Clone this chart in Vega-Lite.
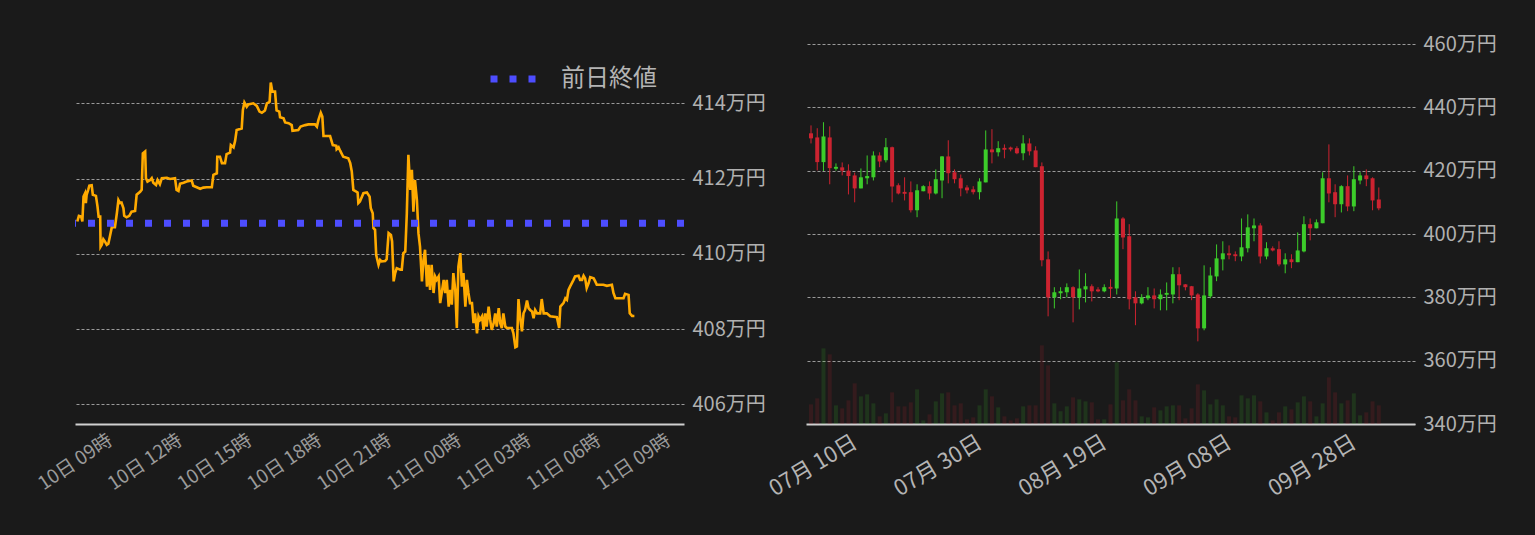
{
  "$schema": "https://vega.github.io/schema/vega-lite/v6.json",
  "background": "#1a1a1a",
  "padding": {"left": 34, "top": 34, "right": 60, "bottom": 60},
  "spacing": 122,
  "bounds": "flush",
  "datasets": {
    "intraday": [
      {"t": "2023-10-10T07:36", "p": 410.86}, {"t": "2023-10-10T07:40", "p": 411.01}, {"t": "2023-10-10T07:46", "p": 410.99},
      {"t": "2023-10-10T07:49", "p": 410.86}, {"t": "2023-10-10T07:52", "p": 411.52}, {"t": "2023-10-10T07:56", "p": 411.61},
      {"t": "2023-10-10T07:58", "p": 411.35}, {"t": "2023-10-10T08:00", "p": 411.57}, {"t": "2023-10-10T08:04", "p": 411.70},
      {"t": "2023-10-10T08:07", "p": 411.81}, {"t": "2023-10-10T08:13", "p": 411.82}, {"t": "2023-10-10T08:16", "p": 411.57},
      {"t": "2023-10-10T08:24", "p": 411.54}, {"t": "2023-10-10T08:28", "p": 411.26}, {"t": "2023-10-10T08:31", "p": 410.99},
      {"t": "2023-10-10T08:35", "p": 410.99}, {"t": "2023-10-10T08:36", "p": 410.19}, {"t": "2023-10-10T08:39", "p": 410.24},
      {"t": "2023-10-10T08:43", "p": 410.39}, {"t": "2023-10-10T08:47", "p": 410.33}, {"t": "2023-10-10T08:52", "p": 410.24},
      {"t": "2023-10-10T08:56", "p": 410.27}, {"t": "2023-10-10T09:00", "p": 410.46}, {"t": "2023-10-10T09:05", "p": 410.71},
      {"t": "2023-10-10T09:13", "p": 410.71}, {"t": "2023-10-10T09:18", "p": 411.08}, {"t": "2023-10-10T09:22", "p": 411.43},
      {"t": "2023-10-10T09:26", "p": 411.35}, {"t": "2023-10-10T09:30", "p": 411.36}, {"t": "2023-10-10T09:35", "p": 411.21},
      {"t": "2023-10-10T09:37", "p": 411.01}, {"t": "2023-10-10T09:43", "p": 410.97}, {"t": "2023-10-10T09:50", "p": 411.01},
      {"t": "2023-10-10T09:56", "p": 411.12}, {"t": "2023-10-10T10:05", "p": 411.14}, {"t": "2023-10-10T10:09", "p": 411.57},
      {"t": "2023-10-10T10:18", "p": 411.65}, {"t": "2023-10-10T10:22", "p": 411.70}, {"t": "2023-10-10T10:25", "p": 412.67},
      {"t": "2023-10-10T10:31", "p": 412.72}, {"t": "2023-10-10T10:33", "p": 412.01}, {"t": "2023-10-10T10:37", "p": 411.92},
      {"t": "2023-10-10T10:44", "p": 411.96}, {"t": "2023-10-10T10:48", "p": 412.01}, {"t": "2023-10-10T10:52", "p": 411.89},
      {"t": "2023-10-10T10:59", "p": 411.83}, {"t": "2023-10-10T11:03", "p": 411.96}, {"t": "2023-10-10T11:09", "p": 411.85},
      {"t": "2023-10-10T11:14", "p": 412.01}, {"t": "2023-10-10T11:27", "p": 412.02}, {"t": "2023-10-10T11:35", "p": 411.99},
      {"t": "2023-10-10T11:48", "p": 412.01}, {"t": "2023-10-10T11:52", "p": 411.70}, {"t": "2023-10-10T11:57", "p": 411.67},
      {"t": "2023-10-10T12:01", "p": 411.86}, {"t": "2023-10-10T12:10", "p": 411.89}, {"t": "2023-10-10T12:18", "p": 411.92},
      {"t": "2023-10-10T12:31", "p": 411.95}, {"t": "2023-10-10T12:35", "p": 411.81}, {"t": "2023-10-10T12:44", "p": 411.77},
      {"t": "2023-10-10T12:53", "p": 411.73}, {"t": "2023-10-10T13:01", "p": 411.76}, {"t": "2023-10-10T13:10", "p": 411.77},
      {"t": "2023-10-10T13:23", "p": 411.77}, {"t": "2023-10-10T13:27", "p": 412.10}, {"t": "2023-10-10T13:36", "p": 412.14},
      {"t": "2023-10-10T13:37", "p": 412.58}, {"t": "2023-10-10T13:44", "p": 412.58}, {"t": "2023-10-10T13:49", "p": 412.41},
      {"t": "2023-10-10T13:57", "p": 412.41}, {"t": "2023-10-10T14:01", "p": 412.65}, {"t": "2023-10-10T14:10", "p": 412.69},
      {"t": "2023-10-10T14:12", "p": 412.89}, {"t": "2023-10-10T14:19", "p": 412.83}, {"t": "2023-10-10T14:23", "p": 413.00},
      {"t": "2023-10-10T14:27", "p": 413.29}, {"t": "2023-10-10T14:40", "p": 413.33}, {"t": "2023-10-10T14:43", "p": 413.82},
      {"t": "2023-10-10T14:47", "p": 414.02}, {"t": "2023-10-10T14:53", "p": 413.91}, {"t": "2023-10-10T14:57", "p": 413.97},
      {"t": "2023-10-10T15:10", "p": 414.00}, {"t": "2023-10-10T15:19", "p": 413.93}, {"t": "2023-10-10T15:26", "p": 413.78},
      {"t": "2023-10-10T15:32", "p": 413.75}, {"t": "2023-10-10T15:40", "p": 413.81}, {"t": "2023-10-10T15:45", "p": 414.00},
      {"t": "2023-10-10T15:52", "p": 414.04}, {"t": "2023-10-10T15:55", "p": 414.55}, {"t": "2023-10-10T15:59", "p": 414.31},
      {"t": "2023-10-10T16:06", "p": 414.31}, {"t": "2023-10-10T16:10", "p": 413.81}, {"t": "2023-10-10T16:17", "p": 413.78},
      {"t": "2023-10-10T16:19", "p": 413.63}, {"t": "2023-10-10T16:28", "p": 413.60}, {"t": "2023-10-10T16:32", "p": 413.49},
      {"t": "2023-10-10T16:41", "p": 413.47}, {"t": "2023-10-10T16:49", "p": 413.42}, {"t": "2023-10-10T16:51", "p": 413.27},
      {"t": "2023-10-10T17:06", "p": 413.29}, {"t": "2023-10-10T17:12", "p": 413.38}, {"t": "2023-10-10T17:24", "p": 413.42},
      {"t": "2023-10-10T17:32", "p": 413.44}, {"t": "2023-10-10T17:49", "p": 413.44}, {"t": "2023-10-10T17:54", "p": 413.38},
      {"t": "2023-10-10T17:58", "p": 413.56}, {"t": "2023-10-10T18:04", "p": 413.75}, {"t": "2023-10-10T18:08", "p": 413.65},
      {"t": "2023-10-10T18:11", "p": 413.13}, {"t": "2023-10-10T18:28", "p": 413.13}, {"t": "2023-10-10T18:35", "p": 412.89},
      {"t": "2023-10-10T18:44", "p": 412.87}, {"t": "2023-10-10T18:45", "p": 412.78}, {"t": "2023-10-10T18:50", "p": 412.83},
      {"t": "2023-10-10T18:54", "p": 412.74}, {"t": "2023-10-10T19:02", "p": 412.58}, {"t": "2023-10-10T19:15", "p": 412.54},
      {"t": "2023-10-10T19:20", "p": 412.41}, {"t": "2023-10-10T19:24", "p": 412.19}, {"t": "2023-10-10T19:28", "p": 411.70},
      {"t": "2023-10-10T19:39", "p": 411.63}, {"t": "2023-10-10T19:41", "p": 411.35}, {"t": "2023-10-10T19:45", "p": 411.39},
      {"t": "2023-10-10T19:54", "p": 411.61}, {"t": "2023-10-10T20:03", "p": 411.63}, {"t": "2023-10-10T20:10", "p": 411.52},
      {"t": "2023-10-10T20:13", "p": 411.21}, {"t": "2023-10-10T20:18", "p": 411.08}, {"t": "2023-10-10T20:20", "p": 410.68},
      {"t": "2023-10-10T20:24", "p": 410.64}, {"t": "2023-10-10T20:27", "p": 409.97}, {"t": "2023-10-10T20:33", "p": 409.71},
      {"t": "2023-10-10T20:37", "p": 409.84}, {"t": "2023-10-10T20:41", "p": 409.80}, {"t": "2023-10-10T20:50", "p": 409.81},
      {"t": "2023-10-10T20:54", "p": 409.86}, {"t": "2023-10-10T20:59", "p": 410.55}, {"t": "2023-10-10T21:05", "p": 410.50},
      {"t": "2023-10-10T21:08", "p": 410.33}, {"t": "2023-10-10T21:12", "p": 409.27}, {"t": "2023-10-10T21:16", "p": 409.49},
      {"t": "2023-10-10T21:20", "p": 409.62}, {"t": "2023-10-10T21:29", "p": 409.58}, {"t": "2023-10-10T21:33", "p": 409.58},
      {"t": "2023-10-10T21:37", "p": 410.02}, {"t": "2023-10-10T21:42", "p": 410.06}, {"t": "2023-10-10T21:46", "p": 411.08},
      {"t": "2023-10-10T21:50", "p": 412.63}, {"t": "2023-10-10T21:55", "p": 411.70}, {"t": "2023-10-10T21:59", "p": 412.23},
      {"t": "2023-10-10T22:03", "p": 411.12}, {"t": "2023-10-10T22:07", "p": 411.96}, {"t": "2023-10-10T22:12", "p": 411.43},
      {"t": "2023-10-10T22:16", "p": 410.55}, {"t": "2023-10-10T22:20", "p": 410.19}, {"t": "2023-10-10T22:25", "p": 409.27},
      {"t": "2023-10-10T22:29", "p": 409.84}, {"t": "2023-10-10T22:33", "p": 410.11}, {"t": "2023-10-10T22:38", "p": 409.13},
      {"t": "2023-10-10T22:42", "p": 409.71}, {"t": "2023-10-10T22:46", "p": 409.04}, {"t": "2023-10-10T22:50", "p": 409.71},
      {"t": "2023-10-10T22:55", "p": 408.96}, {"t": "2023-10-10T22:59", "p": 409.40}, {"t": "2023-10-10T23:03", "p": 409.31},
      {"t": "2023-10-10T23:08", "p": 409.40}, {"t": "2023-10-10T23:12", "p": 408.69}, {"t": "2023-10-10T23:16", "p": 408.96},
      {"t": "2023-10-10T23:21", "p": 409.31}, {"t": "2023-10-10T23:25", "p": 408.96}, {"t": "2023-10-10T23:29", "p": 409.31},
      {"t": "2023-10-10T23:34", "p": 408.60}, {"t": "2023-10-10T23:38", "p": 409.04}, {"t": "2023-10-10T23:42", "p": 408.65},
      {"t": "2023-10-10T23:46", "p": 409.49}, {"t": "2023-10-10T23:51", "p": 409.04}, {"t": "2023-10-10T23:55", "p": 408.03},
      {"t": "2023-10-10T23:59", "p": 409.66}, {"t": "2023-10-11T00:04", "p": 410.02}, {"t": "2023-10-11T00:08", "p": 409.13},
      {"t": "2023-10-11T00:12", "p": 409.49}, {"t": "2023-10-11T00:17", "p": 408.60}, {"t": "2023-10-11T00:21", "p": 409.31},
      {"t": "2023-10-11T00:25", "p": 408.96}, {"t": "2023-10-11T00:29", "p": 408.69}, {"t": "2023-10-11T00:34", "p": 408.69},
      {"t": "2023-10-11T00:38", "p": 408.16}, {"t": "2023-10-11T00:42", "p": 408.42}, {"t": "2023-10-11T00:47", "p": 407.89},
      {"t": "2023-10-11T00:51", "p": 408.34}, {"t": "2023-10-11T00:55", "p": 408.25}, {"t": "2023-10-11T01:00", "p": 408.34},
      {"t": "2023-10-11T01:04", "p": 407.98}, {"t": "2023-10-11T01:08", "p": 408.42}, {"t": "2023-10-11T01:12", "p": 408.07},
      {"t": "2023-10-11T01:17", "p": 408.60}, {"t": "2023-10-11T01:21", "p": 408.25}, {"t": "2023-10-11T01:25", "p": 407.98},
      {"t": "2023-10-11T01:30", "p": 408.16}, {"t": "2023-10-11T01:34", "p": 408.42}, {"t": "2023-10-11T01:38", "p": 408.07},
      {"t": "2023-10-11T01:43", "p": 408.56}, {"t": "2023-10-11T01:47", "p": 408.16}, {"t": "2023-10-11T01:51", "p": 408.03},
      {"t": "2023-10-11T01:55", "p": 408.42}, {"t": "2023-10-11T02:00", "p": 408.07}, {"t": "2023-10-11T02:04", "p": 408.03},
      {"t": "2023-10-11T02:17", "p": 408.03}, {"t": "2023-10-11T02:21", "p": 407.89}, {"t": "2023-10-11T02:26", "p": 407.52},
      {"t": "2023-10-11T02:30", "p": 407.54}, {"t": "2023-10-11T02:34", "p": 408.80}, {"t": "2023-10-11T02:39", "p": 408.25},
      {"t": "2023-10-11T02:43", "p": 407.94}, {"t": "2023-10-11T02:47", "p": 408.42}, {"t": "2023-10-11T02:51", "p": 408.51},
      {"t": "2023-10-11T02:56", "p": 408.76}, {"t": "2023-10-11T03:00", "p": 408.56}, {"t": "2023-10-11T03:04", "p": 408.51},
      {"t": "2023-10-11T03:09", "p": 408.47}, {"t": "2023-10-11T03:13", "p": 408.29}, {"t": "2023-10-11T03:17", "p": 408.51},
      {"t": "2023-10-11T03:22", "p": 408.42}, {"t": "2023-10-11T03:30", "p": 408.42}, {"t": "2023-10-11T03:34", "p": 408.80},
      {"t": "2023-10-11T03:39", "p": 408.42}, {"t": "2023-10-11T03:47", "p": 408.42}, {"t": "2023-10-11T03:56", "p": 408.34},
      {"t": "2023-10-11T04:13", "p": 408.32}, {"t": "2023-10-11T04:19", "p": 408.03}, {"t": "2023-10-11T04:22", "p": 408.60},
      {"t": "2023-10-11T04:30", "p": 408.69}, {"t": "2023-10-11T04:35", "p": 408.82}, {"t": "2023-10-11T04:39", "p": 408.78},
      {"t": "2023-10-11T04:43", "p": 409.04}, {"t": "2023-10-11T04:47", "p": 409.13}, {"t": "2023-10-11T04:56", "p": 409.31},
      {"t": "2023-10-11T05:00", "p": 409.40}, {"t": "2023-10-11T05:09", "p": 409.42}, {"t": "2023-10-11T05:13", "p": 409.31},
      {"t": "2023-10-11T05:18", "p": 409.31}, {"t": "2023-10-11T05:22", "p": 409.42}, {"t": "2023-10-11T05:26", "p": 409.35},
      {"t": "2023-10-11T05:30", "p": 409.09}, {"t": "2023-10-11T05:35", "p": 409.22}, {"t": "2023-10-11T05:39", "p": 409.38},
      {"t": "2023-10-11T05:48", "p": 409.35}, {"t": "2023-10-11T05:52", "p": 409.27}, {"t": "2023-10-11T05:56", "p": 409.18},
      {"t": "2023-10-11T06:13", "p": 409.18}, {"t": "2023-10-11T06:22", "p": 409.15}, {"t": "2023-10-11T06:35", "p": 409.18},
      {"t": "2023-10-11T06:39", "p": 408.96}, {"t": "2023-10-11T06:44", "p": 408.82}, {"t": "2023-10-11T07:05", "p": 408.82},
      {"t": "2023-10-11T07:09", "p": 408.94}, {"t": "2023-10-11T07:18", "p": 408.91}, {"t": "2023-10-11T07:21", "p": 408.42},
      {"t": "2023-10-11T07:27", "p": 408.35}, {"t": "2023-10-11T07:33", "p": 408.35}
    ],
    "prevClose": [{"label": "前日終値", "close": 410.81}],
    "daily": [
      {"d": "2023-07-03T00:00", "o": 431.8, "h": 434.3, "l": 428.6, "c": 430.2, "v": 59},
      {"d": "2023-07-04T00:00", "o": 430.5, "h": 433.4, "l": 420.1, "c": 422.7, "v": 77},
      {"d": "2023-07-05T00:00", "o": 422.7, "h": 435.3, "l": 419.9, "c": 430.8, "v": 227},
      {"d": "2023-07-06T00:00", "o": 430.5, "h": 434.0, "l": 415.7, "c": 420.8, "v": 209},
      {"d": "2023-07-07T00:00", "o": 420.6, "h": 422.3, "l": 420.0, "c": 421.2, "v": 56},
      {"d": "2023-07-08T00:00", "o": 421.05, "h": 422.6, "l": 418.5, "c": 420.0, "v": 47},
      {"d": "2023-07-09T00:00", "o": 420.0, "h": 422.0, "l": 412.5, "c": 418.3, "v": 71},
      {"d": "2023-07-10T00:00", "o": 418.5, "h": 419.4, "l": 410.0, "c": 414.4, "v": 122},
      {"d": "2023-07-11T00:00", "o": 414.4, "h": 420.7, "l": 414.4, "c": 417.9, "v": 83},
      {"d": "2023-07-12T00:00", "o": 417.6, "h": 424.8, "l": 415.7, "c": 418.3, "v": 89},
      {"d": "2023-07-13T00:00", "o": 417.9, "h": 426.1, "l": 416.9, "c": 424.8, "v": 62},
      {"d": "2023-07-14T00:00", "o": 424.8, "h": 425.8, "l": 421.1, "c": 422.9, "v": 23},
      {"d": "2023-07-15T00:00", "o": 423.3, "h": 430.3, "l": 422.6, "c": 427.4, "v": 32},
      {"d": "2023-07-16T00:00", "o": 427.4, "h": 427.6, "l": 410.0, "c": 415.0, "v": 95},
      {"d": "2023-07-17T00:00", "o": 415.4, "h": 416.0, "l": 412.5, "c": 412.8, "v": 53},
      {"d": "2023-07-18T00:00", "o": 413.3, "h": 417.9, "l": 410.6, "c": 412.7, "v": 53},
      {"d": "2023-07-19T00:00", "o": 413.2, "h": 416.6, "l": 406.8, "c": 407.5, "v": 65},
      {"d": "2023-07-20T00:00", "o": 407.5, "h": 415.7, "l": 405.3, "c": 413.8, "v": 104},
      {"d": "2023-07-21T00:00", "o": 413.5, "h": 415.4, "l": 413.5, "c": 415.1, "v": 11},
      {"d": "2023-07-22T00:00", "o": 415.1, "h": 416.6, "l": 410.9, "c": 412.8, "v": 29},
      {"d": "2023-07-23T00:00", "o": 412.8, "h": 420.4, "l": 412.5, "c": 417.3, "v": 68},
      {"d": "2023-07-24T00:00", "o": 416.9, "h": 424.6, "l": 411.3, "c": 424.5, "v": 92},
      {"d": "2023-07-25T00:00", "o": 424.5, "h": 429.6, "l": 416.0, "c": 419.2, "v": 95},
      {"d": "2023-07-26T00:00", "o": 419.5, "h": 420.4, "l": 416.0, "c": 417.3, "v": 56},
      {"d": "2023-07-27T00:00", "o": 417.6, "h": 418.8, "l": 411.9, "c": 414.4, "v": 62},
      {"d": "2023-07-28T00:00", "o": 414.7, "h": 415.4, "l": 412.8, "c": 413.8, "v": 14},
      {"d": "2023-07-29T00:00", "o": 414.1, "h": 415.1, "l": 412.5, "c": 413.2, "v": 20},
      {"d": "2023-07-30T00:00", "o": 413.2, "h": 417.6, "l": 410.9, "c": 416.6, "v": 56},
      {"d": "2023-07-31T00:00", "o": 416.3, "h": 432.7, "l": 416.3, "c": 426.7, "v": 104},
      {"d": "2023-08-01T00:00", "o": 426.7, "h": 433.1, "l": 422.3, "c": 425.8, "v": 83},
      {"d": "2023-08-02T00:00", "o": 425.8, "h": 429.3, "l": 424.5, "c": 427.1, "v": 50},
      {"d": "2023-08-03T00:00", "o": 427.2, "h": 428.3, "l": 423.9, "c": 426.6, "v": 23},
      {"d": "2023-08-04T00:00", "o": 427.3, "h": 427.6, "l": 426.1, "c": 426.7, "v": 11},
      {"d": "2023-08-05T00:00", "o": 427.1, "h": 427.7, "l": 425.2, "c": 425.5, "v": 17},
      {"d": "2023-08-06T00:00", "o": 425.5, "h": 431.2, "l": 423.3, "c": 428.6, "v": 53},
      {"d": "2023-08-07T00:00", "o": 428.6, "h": 430.2, "l": 424.8, "c": 426.1, "v": 56},
      {"d": "2023-08-08T00:00", "o": 426.4, "h": 427.7, "l": 421.1, "c": 421.1, "v": 56},
      {"d": "2023-08-09T00:00", "o": 421.4, "h": 422.6, "l": 389.8, "c": 391.7, "v": 236},
      {"d": "2023-08-10T00:00", "o": 392.0, "h": 394.5, "l": 374.0, "c": 380.0, "v": 176},
      {"d": "2023-08-11T00:00", "o": 380.0, "h": 383.2, "l": 376.5, "c": 381.6, "v": 62},
      {"d": "2023-08-12T00:00", "o": 381.3, "h": 383.2, "l": 379.4, "c": 381.9, "v": 38},
      {"d": "2023-08-13T00:00", "o": 381.6, "h": 384.4, "l": 380.0, "c": 383.2, "v": 53},
      {"d": "2023-08-14T00:00", "o": 383.2, "h": 383.5, "l": 372.1, "c": 380.0, "v": 80},
      {"d": "2023-08-15T00:00", "o": 380.0, "h": 388.8, "l": 376.2, "c": 382.8, "v": 74},
      {"d": "2023-08-16T00:00", "o": 382.5, "h": 387.6, "l": 378.4, "c": 383.5, "v": 68},
      {"d": "2023-08-17T00:00", "o": 383.5, "h": 384.1, "l": 378.7, "c": 381.9, "v": 65},
      {"d": "2023-08-18T00:00", "o": 382.5, "h": 383.2, "l": 381.6, "c": 381.9, "v": 14},
      {"d": "2023-08-19T00:00", "o": 381.9, "h": 384.1, "l": 381.6, "c": 383.2, "v": 14},
      {"d": "2023-08-20T00:00", "o": 383.3, "h": 385.7, "l": 379.7, "c": 382.7, "v": 59},
      {"d": "2023-08-21T00:00", "o": 382.8, "h": 410.3, "l": 380.9, "c": 404.9, "v": 185},
      {"d": "2023-08-22T00:00", "o": 404.9, "h": 405.3, "l": 395.2, "c": 398.9, "v": 71},
      {"d": "2023-08-23T00:00", "o": 399.3, "h": 403.1, "l": 376.2, "c": 379.4, "v": 104},
      {"d": "2023-08-24T00:00", "o": 380.0, "h": 381.9, "l": 371.2, "c": 378.1, "v": 71},
      {"d": "2023-08-25T00:00", "o": 378.1, "h": 381.0, "l": 377.8, "c": 380.0, "v": 23},
      {"d": "2023-08-26T00:00", "o": 379.7, "h": 383.2, "l": 379.1, "c": 380.6, "v": 20},
      {"d": "2023-08-27T00:00", "o": 380.6, "h": 382.8, "l": 376.5, "c": 379.4, "v": 50},
      {"d": "2023-08-28T00:00", "o": 379.4, "h": 382.5, "l": 375.9, "c": 380.9, "v": 41},
      {"d": "2023-08-29T00:00", "o": 380.8, "h": 384.7, "l": 375.9, "c": 381.4, "v": 53},
      {"d": "2023-08-30T00:00", "o": 380.9, "h": 389.5, "l": 378.1, "c": 387.3, "v": 56},
      {"d": "2023-08-31T00:00", "o": 387.3, "h": 389.5, "l": 379.1, "c": 383.8, "v": 56},
      {"d": "2023-09-01T00:00", "o": 384.1, "h": 384.2, "l": 382.2, "c": 383.2, "v": 17},
      {"d": "2023-09-02T00:00", "o": 383.5, "h": 383.6, "l": 379.1, "c": 380.6, "v": 47},
      {"d": "2023-09-03T00:00", "o": 380.9, "h": 381.3, "l": 366.1, "c": 370.2, "v": 119},
      {"d": "2023-09-04T00:00", "o": 370.2, "h": 390.1, "l": 369.6, "c": 380.6, "v": 101},
      {"d": "2023-09-05T00:00", "o": 380.3, "h": 389.5, "l": 379.7, "c": 386.9, "v": 59},
      {"d": "2023-09-06T00:00", "o": 386.6, "h": 396.7, "l": 385.1, "c": 392.3, "v": 74},
      {"d": "2023-09-07T00:00", "o": 392.0, "h": 397.7, "l": 388.5, "c": 393.9, "v": 56},
      {"d": "2023-09-08T00:00", "o": 393.9, "h": 396.4, "l": 392.0, "c": 393.3, "v": 23},
      {"d": "2023-09-09T00:00", "o": 393.6, "h": 394.5, "l": 391.4, "c": 393.0, "v": 20},
      {"d": "2023-09-10T00:00", "o": 392.9, "h": 404.9, "l": 391.4, "c": 395.8, "v": 86},
      {"d": "2023-09-11T00:00", "o": 395.5, "h": 406.2, "l": 394.2, "c": 402.1, "v": 77},
      {"d": "2023-09-12T00:00", "o": 401.8, "h": 404.9, "l": 397.7, "c": 402.7, "v": 86},
      {"d": "2023-09-13T00:00", "o": 402.7, "h": 403.4, "l": 390.7, "c": 392.9, "v": 68},
      {"d": "2023-09-14T00:00", "o": 392.9, "h": 397.4, "l": 392.0, "c": 395.5, "v": 35},
      {"d": "2023-09-15T00:00", "o": 395.5, "h": 396.1, "l": 394.5, "c": 394.8, "v": 11},
      {"d": "2023-09-16T00:00", "o": 395.2, "h": 397.7, "l": 389.8, "c": 390.4, "v": 35},
      {"d": "2023-09-17T00:00", "o": 390.4, "h": 393.9, "l": 387.6, "c": 392.0, "v": 53},
      {"d": "2023-09-18T00:00", "o": 392.0, "h": 393.6, "l": 389.2, "c": 391.1, "v": 44},
      {"d": "2023-09-19T00:00", "o": 391.1, "h": 400.5, "l": 391.1, "c": 394.8, "v": 65},
      {"d": "2023-09-20T00:00", "o": 394.5, "h": 405.6, "l": 394.2, "c": 403.1, "v": 83},
      {"d": "2023-09-21T00:00", "o": 403.1, "h": 404.9, "l": 398.0, "c": 401.8, "v": 68},
      {"d": "2023-09-22T00:00", "o": 401.8, "h": 404.6, "l": 401.8, "c": 403.7, "v": 23},
      {"d": "2023-09-23T00:00", "o": 403.4, "h": 419.5, "l": 403.4, "c": 417.6, "v": 62},
      {"d": "2023-09-24T00:00", "o": 417.6, "h": 428.3, "l": 410.0, "c": 412.8, "v": 140},
      {"d": "2023-09-25T00:00", "o": 413.2, "h": 415.7, "l": 405.3, "c": 409.4, "v": 95},
      {"d": "2023-09-26T00:00", "o": 409.4, "h": 415.4, "l": 406.8, "c": 415.1, "v": 62},
      {"d": "2023-09-27T00:00", "o": 415.1, "h": 418.5, "l": 407.2, "c": 408.7, "v": 71},
      {"d": "2023-09-28T00:00", "o": 408.7, "h": 421.4, "l": 407.2, "c": 417.3, "v": 92},
      {"d": "2023-09-29T00:00", "o": 416.9, "h": 419.5, "l": 415.7, "c": 418.5, "v": 26},
      {"d": "2023-09-30T00:00", "o": 418.5, "h": 420.4, "l": 415.1, "c": 417.3, "v": 35},
      {"d": "2023-10-01T00:00", "o": 417.6, "h": 417.9, "l": 407.5, "c": 410.6, "v": 68},
      {"d": "2023-10-02T00:00", "o": 410.9, "h": 414.7, "l": 407.5, "c": 408.1, "v": 56}
    ]
  },
  "hconcat": [
    {
      "width": 609,
      "height": 380,
      "layer": [
        {
          "data": {"name": "intraday"},
          "mark": {"type": "line", "color": "#ffaa00", "strokeWidth": 2.6, "clip": true},
          "encoding": {
            "x": {
              "field": "t",
              "type": "temporal",
              "scale": {"domain": [
                {"year": 2023, "month": 10, "date": 10, "hours": 7, "minutes": 30},
                {"year": 2023, "month": 10, "date": 11, "hours": 9, "minutes": 41}
              ]},
              "axis": {
                "title": null,
                "values": [
                  {"year": 2023, "month": 10, "date": 10, "hours": 9},
                  {"year": 2023, "month": 10, "date": 10, "hours": 12},
                  {"year": 2023, "month": 10, "date": 10, "hours": 15},
                  {"year": 2023, "month": 10, "date": 10, "hours": 18},
                  {"year": 2023, "month": 10, "date": 10, "hours": 21},
                  {"year": 2023, "month": 10, "date": 11, "hours": 0},
                  {"year": 2023, "month": 10, "date": 11, "hours": 3},
                  {"year": 2023, "month": 10, "date": 11, "hours": 6},
                  {"year": 2023, "month": 10, "date": 11, "hours": 9}
                ],
                "format": "%d日 %H時",
                "labelAngle": -34,
                "labelAlign": "right",
                "labelBaseline": "middle",
                "labelFontSize": 19,
                "labelColor": "#9a9a9a",
                "labelOverlap": false,
                "labelPadding": 14,
                "domainColor": "#d0d0d0",
                "domainWidth": 2,
                "ticks": false,
                "grid": false
              }
            },
            "y": {
              "field": "p",
              "type": "quantitative",
              "scale": {"domain": [405.48, 415.575], "nice": false, "zero": false},
              "axis": {
                "title": null,
                "orient": "right",
                "values": [406, 408, 410, 412, 414],
                "labelExpr": "datum.value + '万円'",
                "labelFontSize": 20,
                "labelColor": "#b0b0b0",
                "labelPadding": 8,
                "domain": false,
                "ticks": false,
                "grid": true,
                "gridColor": "#9a9a9a",
                "gridDash": [3, 2],
                "gridWidth": 1
              }
            }
          }
        },
        {
          "data": {"name": "prevClose"},
          "mark": {"type": "rule", "strokeWidth": 7, "strokeDash": [7, 12]},
          "encoding": {
            "y": {"field": "close", "type": "quantitative"},
            "color": {
              "field": "label",
              "type": "nominal",
              "scale": {"range": ["#4d4dff"]},
              "legend": {
                "title": null,
                "orient": "none",
                "legendX": 412,
                "legendY": 9,
                "padding": 0,
                "symbolType": "stroke",
                "symbolSize": 2025,
                "symbolStrokeWidth": 7,
                "symbolDash": [7, 12],
                "labelFontSize": 24,
                "labelColor": "#b4b4b4",
                "labelOffset": 22
              }
            }
          }
        }
      ]
    },
    {
      "width": 609,
      "height": 380,
      "data": {"name": "daily"},
      "encoding": {
        "x": {
          "field": "d",
          "type": "temporal",
          "scale": {"domain": [
            {"year": 2023, "month": 7, "date": 3},
            {"year": 2023, "month": 10, "date": 7}
          ]},
          "axis": {
            "title": null,
            "values": [
              {"year": 2023, "month": 7, "date": 10},
              {"year": 2023, "month": 7, "date": 30},
              {"year": 2023, "month": 8, "date": 19},
              {"year": 2023, "month": 9, "date": 8},
              {"year": 2023, "month": 9, "date": 28}
            ],
            "format": "%m月 %d日",
            "labelAngle": -31,
            "labelAlign": "right",
            "labelBaseline": "middle",
            "labelFontSize": 22,
            "labelColor": "#b4b4b4",
            "labelOverlap": false,
            "labelPadding": 16,
            "domainColor": "#d0d0d0",
            "domainWidth": 2,
            "ticks": false,
            "grid": false
          }
        }
      },
      "layer": [
        {
          "mark": {"type": "bar", "size": 4, "opacity": 0.15, "clip": true},
          "encoding": {
            "y": {"field": "v", "type": "quantitative", "scale": {"domain": [0, 1140]}, "axis": null},
            "color": {"condition": {"test": "datum.c > datum.o", "value": "#3ccc2a"}, "value": "#cc2330"}
          }
        },
        {
          "layer": [
            {
              "mark": {"type": "rule", "strokeWidth": 1, "clip": true},
              "encoding": {
                "y": {
                  "field": "l",
                  "type": "quantitative",
                  "scale": {"domain": [340, 460], "nice": false, "zero": false},
                  "axis": {
                    "title": null,
                    "orient": "right",
                    "values": [340, 360, 380, 400, 420, 440, 460],
                    "labelExpr": "datum.value + '万円'",
                    "labelFontSize": 20,
                    "labelColor": "#b0b0b0",
                    "labelPadding": 8,
                    "domain": false,
                    "ticks": false,
                    "grid": true,
                    "gridColor": "#9a9a9a",
                    "gridDash": [3, 2],
                    "gridWidth": 1
                  }
                },
                "y2": {"field": "h"},
                "color": {"condition": {"test": "datum.c > datum.o", "value": "#3ccc2a"}, "value": "#cc2330"}
              }
            },
            {
              "mark": {"type": "bar", "size": 4, "clip": true},
              "encoding": {
                "y": {"field": "o", "type": "quantitative"},
                "y2": {"field": "c"},
                "color": {"condition": {"test": "datum.c > datum.o", "value": "#3ccc2a"}, "value": "#cc2330"}
              }
            }
          ]
        }
      ],
      "resolve": {"scale": {"y": "independent"}}
    }
  ],
  "config": {
    "view": {"stroke": null},
    "font": "Noto Sans CJK JP"
  }
}
